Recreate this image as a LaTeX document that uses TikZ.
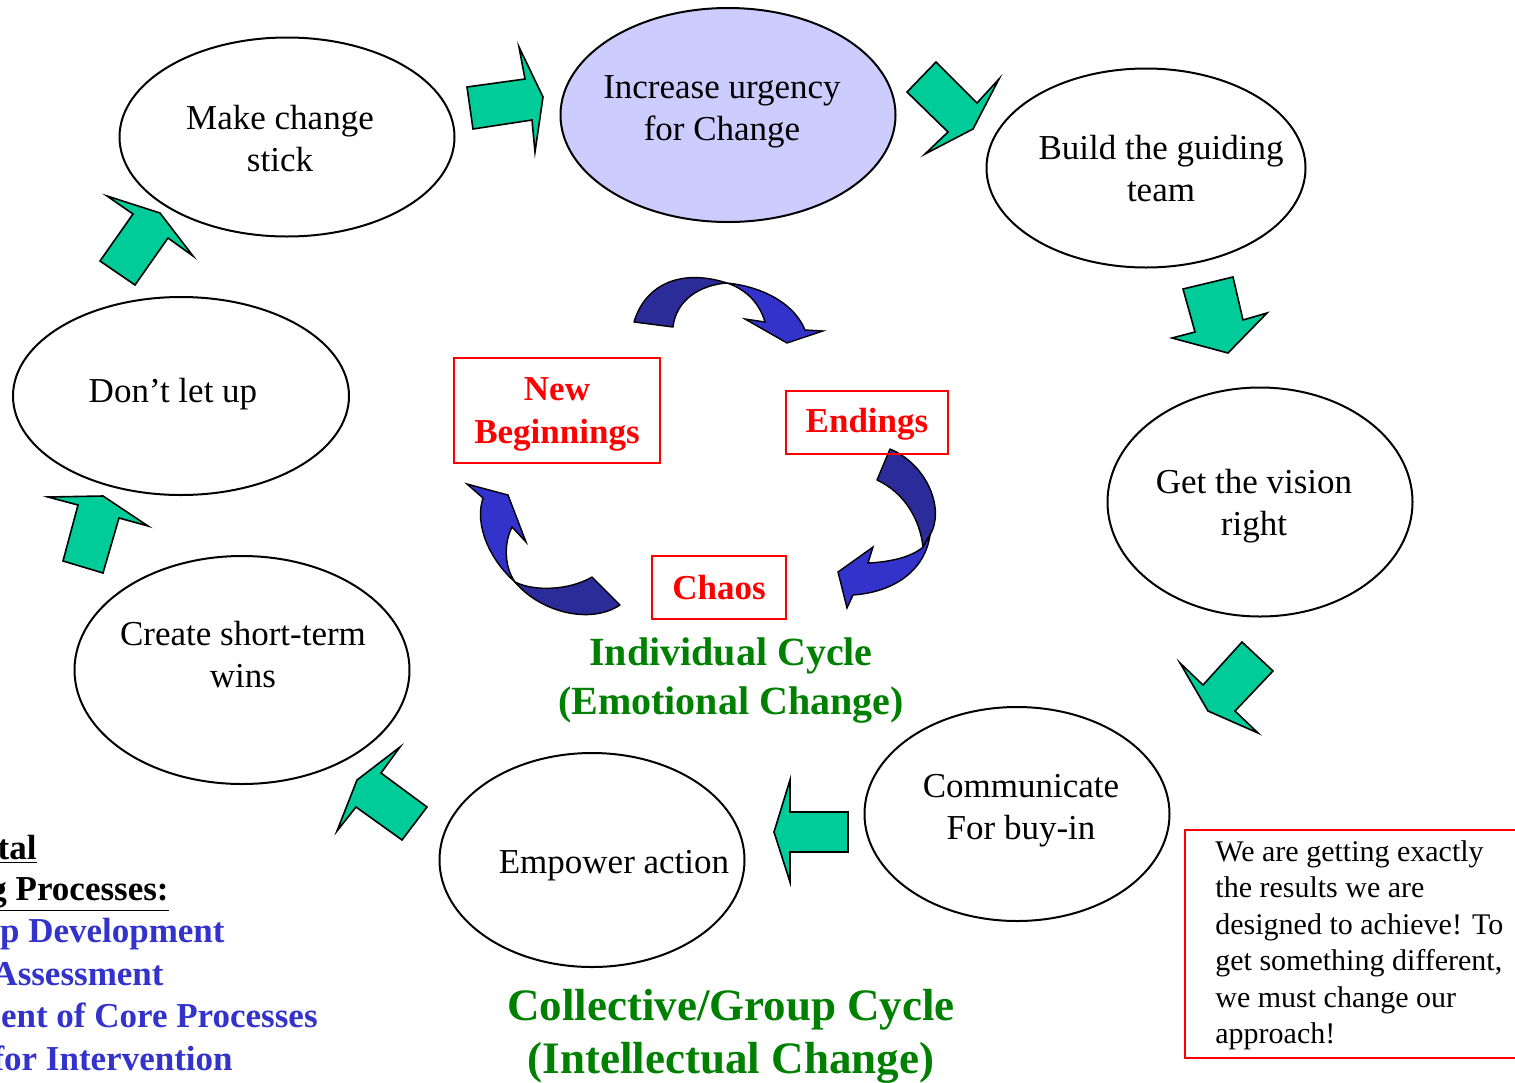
\documentclass[tikz,border=0pt]{standalone}
\usepackage{fontspec}
\setmainfont{Liberation Serif}
\usetikzlibrary{shapes.geometric}
\definecolor{arrowgreen}{RGB}{0,204,153}
\definecolor{lav}{RGB}{204,204,255}
\definecolor{bluelight}{RGB}{51,51,204}
\definecolor{bluedark}{RGB}{43,43,153}
\definecolor{textgreen}{RGB}{0,128,0}
\definecolor{textblue}{RGB}{51,51,204}
\begin{document}
\begin{tikzpicture}[x=0.5pt,y=-0.5pt,
  stage/.style={ellipse, draw=black, line width=1pt, inner sep=0pt},
  stagetext/.style={align=center, inner sep=0pt, font=\fontsize{17.5}{21}\selectfont},
  gblock/.style={fill=arrowgreen, draw=black, line width=0.8pt, line join=miter},
  bdark/.style={fill=bluedark, draw=black, line width=0.7pt, line join=round},
  blight/.style={fill=bluelight, draw=black, line width=0.7pt, line join=miter},
  redbox/.style={draw=red, line width=0.8pt, text=red, inner sep=0pt, font=\fontsize{17.5}{21.5}\selectfont\bfseries, align=center},
  cyclelabel/.style={text=textgreen, align=center, inner sep=0pt},
  proclabel/.style={anchor=base east, inner sep=0pt, font=\fontsize{17.5}{21}\selectfont\bfseries}
]
\useasboundingbox (0,0) rectangle (1515,1082);

% ---- stage ellipses ----
\node[stage, minimum width=167.5pt, minimum height=99.5pt] (stick) at (287,137) {};
\node[stage, fill=lav, minimum width=167.5pt, minimum height=107pt] (urgency) at (728,115) {};
\node[stage, minimum width=159.5pt, minimum height=99.5pt] (team) at (1146,168) {};
\node[stage, minimum width=152.5pt, minimum height=114.5pt] (vision) at (1260,502) {};
\node[stage, minimum width=152.5pt, minimum height=107pt] (comm) at (1017,814) {};
\node[stage, minimum width=152.5pt, minimum height=107pt] (empower) at (592,860) {};
\node[stage, minimum width=167.5pt, minimum height=114pt] (wins) at (242,670) {};
\node[stage, minimum width=168pt, minimum height=99pt] (letup) at (181,396) {};

\node[stagetext] (sticktxt) at (280,139) {Make change\\stick};
\node[stagetext] (urgencytxt) at (722,112) {Increase urgency\\for Change};
\node[stagetext] (teamtxt) at (1161,169) {Build the guiding\\team};
\node[stagetext] (visiontxt) at (1254,506) {Get the vision\\right};
\node[stagetext] (commtxt) at (1021,811) {Communicate\\For buy-in};
\node[stagetext] (empowertxt) at (614,866) {Empower action};
\node[stagetext] (winstxt) at (243,655) {Create short-term\\wins};
\node[stagetext] (letuptxt) at (173,394) {Don’t let up};

% ---- green block arrows ----
\filldraw[gblock] (467,87) -- (525,79) -- (519,47) -- (543,97) -- (535,152) -- (532,120) -- (473,129) -- cycle;
\filldraw[gblock] (907,92) -- (936,62) -- (977,103) -- (999,79) -- (973,129) -- (925,154) -- (948,132) -- cycle;
\filldraw[gblock] (1183,289) -- (1233,277) -- (1243,320) -- (1267,313) -- (1228,353) -- (1172,338) -- (1195,332) -- cycle;
\filldraw[gblock] (1242,642) -- (1273,671) -- (1235,711) -- (1258,733) -- (1208,711) -- (1180,663) -- (1203,685) -- cycle;
\filldraw[gblock] (848,812) -- (848,852) -- (790,852) -- (790,882) -- (774,832) -- (790,780) -- (790,812) -- cycle;
\filldraw[gblock] (427,807) -- (402,840) -- (356,807) -- (337,831) -- (357,780) -- (400,747) -- (381,773) -- cycle;
\filldraw[gblock] (63,561) -- (103,573) -- (119,518) -- (148,526) -- (103,496) -- (48,497) -- (78,505) -- cycle;
\filldraw[gblock] (100,261) -- (135,285) -- (168,238) -- (193,256) -- (160,213) -- (107,196) -- (133,214) -- cycle;

% ---- blue curved arrows ----
% top
\filldraw[bdark] (634,322) .. controls (645,285) and (680,268) .. (727,283)
  .. controls (700,285) and (676,300) .. (673,327) -- cycle;
\filldraw[blight] (727,283) .. controls (765,287) and (795,305) .. (805,330)
  -- (823,331) -- (787,343) -- (745,319) -- (765,322)
  .. controls (760,305) and (748,290) .. (727,283) -- cycle;
% left
\filldraw[blight] (515,582) .. controls (490,560) and (474,525) .. (483,498)
  -- (467,484) -- (508,495) -- (526,542) -- (512,527)
  .. controls (503,545) and (505,568) .. (515,582) -- cycle;
\filldraw[bdark] (515,582) .. controls (535,592) and (570,590) .. (592,577)
  -- (620,605) .. controls (590,625) and (540,612) .. (515,582) -- cycle;
% right
\filldraw[bdark] (890,449) .. controls (928,465) and (945,510) .. (930,535)
  -- (923,547) .. controls (920,520) and (905,493) .. (877,480) -- cycle;
\filldraw[blight] (930,535) .. controls (925,570) and (895,592) .. (853,595)
  -- (847,608) -- (838,572) -- (873,547) -- (868,563)
  .. controls (890,562) and (912,557) .. (923,547) -- cycle;

% ---- red labels ----
\node[redbox, minimum width=103pt, minimum height=52.5pt] (newbeg) at (557,410.5) {};
\node[text=red, inner sep=0pt, font=\fontsize{17.5}{21.5}\selectfont\bfseries, align=center] (newbegtxt) at (557,414) {New\\Beginnings};
\node[redbox, minimum width=81pt, minimum height=31.5pt] (endings) at (867,422.5) {};
\node[text=red, inner sep=0pt, font=\fontsize{17.5}{21.5}\selectfont\bfseries] (endingstxt) at (867,424) {Endings};
\node[redbox, minimum width=67pt, minimum height=31.5pt] (chaos) at (719,587.5) {Chaos};

% ---- cycle labels ----
\node[cyclelabel, font=\fontsize{20}{24.5}\selectfont\bfseries] (indiv) at (731,681) {Individual Cycle\\(Emotional Change)};
\node[cyclelabel, font=\fontsize{22.5}{26.5}\selectfont\bfseries] (collective) at (731,1036) {Collective/Group Cycle\\(Intellectual Change)};

% ---- bottom-left process list (cut by the page edge) ----
\node[proclabel] (p1) at (37,859) {\underline{tal}};
\node[proclabel] (p2) at (169,900) {\underline{g Processes:}};
\node[proclabel, text=textblue] (p3) at (225,942) {p Development};
\node[proclabel, text=textblue] (p4) at (164,985) {Assessment};
\node[proclabel, text=textblue] (p5) at (318,1027) {ent of Core Processes};
\node[proclabel, text=textblue] (p6) at (233,1070) {for Intervention};

% ---- quote box ----
\node[draw=red, line width=0.8pt, minimum width=175pt, minimum height=114pt, anchor=north west, inner sep=0pt] (quote) at (1184,829) {};
\node[anchor=north west, align=left, inner sep=0pt, font=\fontsize{15}{18.25}\selectfont] (quotetxt) at (1215,840) {We are getting exactly\\the results we are\\designed to achieve! To\\get something different,\\we must change our\\approach!};
\end{tikzpicture}
\end{document}
